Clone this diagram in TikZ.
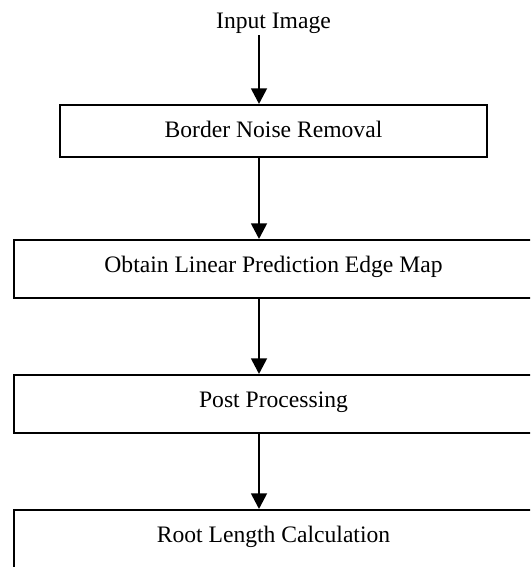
\documentclass[tikz,border=0pt]{standalone}
\usepackage{fontspec}
\setmainfont{Liberation Serif}
\usetikzlibrary{arrows.meta}
\begin{document}
\begin{tikzpicture}[x=0.5pt,y=-0.5pt,
  txt/.style={font=\fontsize{11.8pt}{14pt}\selectfont},
  boxnode/.style={txt, draw, line width=0.9pt, anchor=north, inner ysep=0pt, inner xsep=0pt, text height=16.25pt},
  smallbox/.style={boxnode, minimum width=213.5pt, text depth=9.75pt},
  widebox/.style={boxnode, minimum width=259.5pt, text depth=12.75pt},
  flow/.style={line width=1.35pt, -{Triangle[length=7.8pt,width=7.8pt]}}]
\useasboundingbox (0,0) rectangle (530,567);
\clip (0,0) rectangle (530,567);
\node[txt, inner sep=0.65pt, anchor=base] (in) at (273.5,28.5) {Input Image};
\coordinate (ax) at (259,0);
\node[smallbox] (b1) at (273.5,104) {Border Noise Removal};
\node[widebox] (b2) at (273.5,239) {Obtain Linear Prediction Edge Map};
\node[widebox] (b3) at (273.5,374) {Post Processing};
\node[widebox, text depth=14pt] (b4) at (273.5,509) {Root Length Calculation};
\draw[flow] (in.south -| ax) -- (b1.north -| ax);
\draw[flow] (b1.south -| ax) -- (b2.north -| ax);
\draw[flow] (b2.south -| ax) -- (b3.north -| ax);
\draw[flow] (b3.south -| ax) -- (b4.north -| ax);
\end{tikzpicture}
\end{document}
